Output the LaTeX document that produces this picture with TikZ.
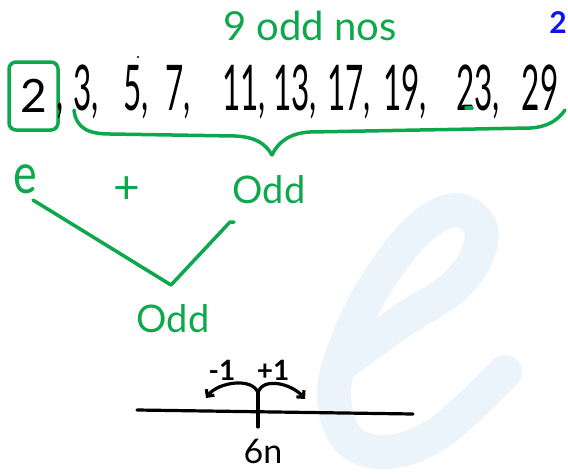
\documentclass[tikz,border=0pt]{standalone}
\usepackage{fontspec}
\setmainfont{Lato}
\usepackage{graphicx}
\usepackage{xcolor}
\usetikzlibrary{arrows.meta}
\definecolor{pengreen}{RGB}{14,168,76}
\definecolor{penblue}{RGB}{10,20,240}
\definecolor{markpale}{RGB}{236,244,251}
\newcommand{\fs}[1]{\fontsize{#1}{#1}\selectfont}
\newcommand{\hw}[1]{\scalebox{0.5}[1]{#1}}

\begin{document}
\begin{tikzpicture}[x=1pt,y=-1pt,
  grn/.style={pengreen,line width=3.5pt,line cap=round,line join=round},
  blk/.style={black,line width=3.2pt,line cap=round,line join=round},
  gtxt/.style={text=pengreen,inner sep=0pt,anchor=base},
  num/.style={inner sep=0pt,anchor=base,font=\fs{63}}]
\useasboundingbox (0,0) rectangle (568,474);
% pale watermark
\draw[markpale,line width=34pt,line cap=round,line join=round]
  plot[smooth,tension=0.6] coordinates {(345,362) (400,322) (450,290) (476,258)
  (480,226) (455,210) (420,228) (382,275) (352,330) (334,390) (347,438)
  (387,452) (440,432) (505,372)};
% the primes
\node[gtxt,font=\fs{40}] (lbl) at (310,40) {9 odd nos};
\node[text=penblue,inner sep=0pt,anchor=base east,font=\fs{30}\bfseries] (blue2) at (567,33) {2};
\node[draw=pengreen,line width=3.5pt,rounded corners=7pt,minimum width=49pt,
  minimum height=68pt,inner sep=0pt,font=\fs{46}] (box) at (33.5,96) {2};
\node[num] (c0) at (60,110) {\hw{,}};
\node[num] (n3) at (86,110) {\hw{3,}};
\node[num] (n5) at (136,110) {\hw{5,}};
\node[num] (n7) at (178,110) {\hw{7,}};
\node[num] (n11) at (244,110) {\hw{11,}};
\node[num] (n13) at (295,110) {\hw{13,}};
\node[num] (n17) at (349,110) {\hw{17,}};
\node[num] (n19) at (405,110) {\hw{19,}};
\node[num] (n23) at (478,110) {\hw{23,}};
\node[num] (n29) at (540,110) {\hw{29}};
\fill (138,57) circle (1.2pt);
\draw[grn] (466,108) -- (472,108);
% brace under the odd ones
\coordinate (braceL) at (74,110);
\coordinate (braceTip) at (272,155);
\coordinate (braceR) at (565,110);
\draw[grn] (braceL) .. controls +(2,18) and +(-22,0) .. (110,134) -- (235,136)
  .. controls +(20,1) and +(-7,-12) .. (braceTip)
  .. controls +(6,-13) and +(-20,1) .. (310,132) -- (530,128)
  .. controls +(18,-1) and +(-7,10) .. (braceR);
% even + odd
\node[gtxt,font=\fs{56}] (eL) at (25,193) {\scalebox{0.8}[1]{e}};
\node[text=pengreen,inner sep=0pt,font=\fs{46}] (plus) at (127,190) {+};
\node[gtxt,font=\fs{38}] (oddR) at (269,203) {Odd};
\node[gtxt,font=\fs{38}] (oddB) at (173,332) {Odd};
\coordinate (eEnd) at (33,200);
\coordinate (vtx) at (171,285);
\coordinate (oddEnd) at (230,222);
\draw[grn] (eEnd) -- (vtx) -- (oddEnd) -- +(4,0);
% number line
\coordinate (lineL) at (137,410);
\coordinate (lineR) at (413,414);
\coordinate (tickT) at (258,393);
\coordinate (tickB) at (258,427);
\coordinate (arrL) at (206,398);
\coordinate (arrR) at (305,399);
\draw[blk] (lineL) -- (lineR);
\draw[blk] (tickT) -- (tickB);
\draw[blk,-{Straight Barb[length=5pt,width=10pt]}] (tickT) .. controls +(-5,-16) and +(12,-16) .. (arrL);
\draw[blk,-{Straight Barb[length=5pt,width=10pt]}] (tickT) .. controls +(4,-16) and +(-14,-16) .. (arrR);
\node[inner sep=0pt,anchor=base,font=\fs{28}\bfseries] (minus1) at (222,380) {-1};
\node[inner sep=0pt,anchor=base,font=\fs{28}\bfseries] (plus1) at (273,380) {+1};
\node[inner sep=0pt,anchor=base,font=\fs{34}] (sixn) at (263,463) {6n};
\end{tikzpicture}
\end{document}
